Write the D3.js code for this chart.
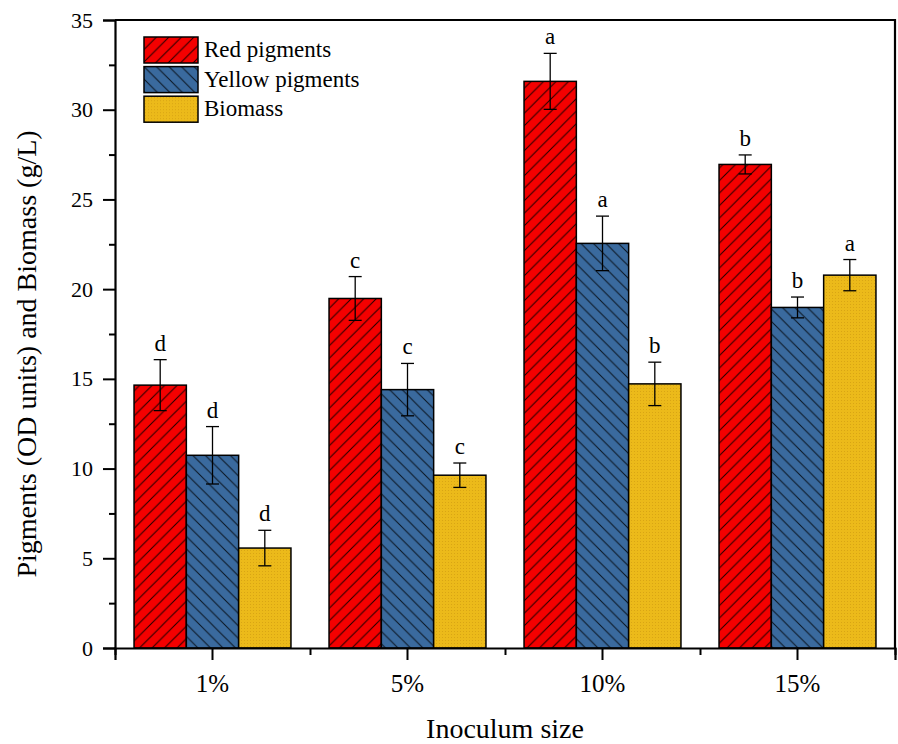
<!DOCTYPE html>
<html>
<head>
<meta charset="utf-8">
<script src="https://cdn.jsdelivr.net/npm/d3@7"></script>
<style>
  html, body { margin: 0; padding: 0; background: #fff; }
  svg { display: block; font-family: "Liberation Serif", "Times New Roman", serif; }
</style>
</head>
<body>
<svg id="chart" width="898" height="744"></svg>
<script>
// Inoculum sizes tested
const categories = ["1%", "5%", "10%", "15%"];
const seriesNames = ["Red pigments", "Yellow pigments", "Biomass"];

// Mean values per inoculum size
const redValues = [14.65, 19.48, 31.58, 26.95];
const yellowValues = [10.74, 14.40, 22.55, 18.98];
const biomassValues = [5.57, 9.63, 14.72, 20.78];

// Standard deviations (error bar half-lengths)
const redErrors = [1.42, 1.22, 1.56, 0.53];
const yellowErrors = [1.60, 1.46, 1.52, 0.58];
const biomassErrors = [0.99, 0.68, 1.21, 0.87];

// Significance letters
const redLetters = ["d", "c", "a", "b"];
const yellowLetters = ["d", "c", "a", "b"];
const biomassLetters = ["d", "c", "b", "a"];

// Axis ticks
const yMajorTicks = [0, 5, 10, 15, 20, 25, 30, 35];
const yMinorTicks = [2.5, 7.5, 12.5, 17.5, 22.5, 27.5, 32.5];

const svg = d3.select("#chart");
const plotLeft = 115, plotRight = 895, plotTop = 20, plotBottom = 648;
const serif = "Liberation Serif, Times New Roman, serif";

const x0 = d3.scaleBand().domain(categories).range([plotLeft, plotRight]).padding(0);
const x1 = d3.scaleBand().domain(seriesNames).range([0, x0.bandwidth()])
  .paddingInner(0).paddingOuter(0.364);
const y = d3.scaleLinear().domain([0, 35]).range([plotBottom, plotTop]);

// Fill patterns
const defs = svg.append("defs");
const hs = 12.5;
const redPat = defs.append("pattern").attr("id", "hatchRed")
  .attr("patternUnits", "userSpaceOnUse").attr("width", hs).attr("height", hs);
redPat.append("rect").attr("width", hs).attr("height", hs).attr("fill", "#F40000");
redPat.append("path")
  .attr("d", `M0,${hs} L${hs},0 M${-hs/2},${hs/2} L${hs/2},${-hs/2} M${hs/2},${hs*1.5} L${hs*1.5},${hs/2}`)
  .attr("stroke", "#1a0000").attr("stroke-width", 1);

const bluePat = defs.append("pattern").attr("id", "hatchBlue")
  .attr("patternUnits", "userSpaceOnUse").attr("width", hs).attr("height", hs);
bluePat.append("rect").attr("width", hs).attr("height", hs).attr("fill", "#3A6A9E");
bluePat.append("path")
  .attr("d", `M0,0 L${hs},${hs} M${-hs/2},${hs/2} L${hs/2},${hs*1.5} M${hs/2},${-hs/2} L${hs*1.5},${hs/2}`)
  .attr("stroke", "#0a1420").attr("stroke-width", 1);

const goldPat = defs.append("pattern").attr("id", "dotGold")
  .attr("patternUnits", "userSpaceOnUse").attr("width", 3).attr("height", 3);
goldPat.append("rect").attr("width", 3).attr("height", 3).attr("fill", "#ECBA1A");
goldPat.append("rect").attr("x", 1).attr("y", 1).attr("width", 1).attr("height", 1).attr("fill", "#D9A514");

const fills = { "Red pigments": "url(#hatchRed)", "Yellow pigments": "url(#hatchBlue)", "Biomass": "url(#dotGold)" };

const series = [
  { name: "Red pigments", values: redValues, errors: redErrors, letters: redLetters },
  { name: "Yellow pigments", values: yellowValues, errors: yellowErrors, letters: yellowLetters },
  { name: "Biomass", values: biomassValues, errors: biomassErrors, letters: biomassLetters }
];

const rows = [];
series.forEach(s => categories.forEach((c, i) => rows.push({
  series: s.name, cat: c, value: s.values[i], err: s.errors[i], letter: s.letters[i]
})));

// Bars
svg.append("g").selectAll("rect").data(rows).join("rect")
  .attr("x", d => x0(d.cat) + x1(d.series))
  .attr("y", d => y(d.value))
  .attr("width", x1.bandwidth())
  .attr("height", d => y(0) - y(d.value))
  .attr("fill", d => fills[d.series])
  .attr("stroke", "#000").attr("stroke-width", 1.5);

// Error bars
const eb = svg.append("g").attr("stroke", "#000").attr("stroke-width", 1.3);
const cap = 6.5;
rows.forEach(d => {
  const cx = x0(d.cat) + x1(d.series) + x1.bandwidth() / 2;
  const yt = y(d.value + d.err), yb = y(d.value - d.err);
  eb.append("line").attr("x1", cx).attr("x2", cx).attr("y1", yt).attr("y2", yb);
  eb.append("line").attr("x1", cx - cap).attr("x2", cx + cap).attr("y1", yt).attr("y2", yt);
  eb.append("line").attr("x1", cx - cap).attr("x2", cx + cap).attr("y1", yb).attr("y2", yb);
});

// Significance letters
svg.append("g").selectAll("text").data(rows).join("text")
  .attr("x", d => x0(d.cat) + x1(d.series) + x1.bandwidth() / 2)
  .attr("y", d => y(d.value + d.err) - 9)
  .attr("text-anchor", "middle")
  .attr("font-family", serif)
  .attr("font-size", 23)
  .attr("fill", "#000")
  .text(d => d.letter);

// Frame (top and right)
svg.append("path")
  .attr("d", `M${plotLeft},${plotTop} H${plotRight} V${plotBottom}`)
  .attr("fill", "none").attr("stroke", "#000").attr("stroke-width", 2.2);

// Y axis
const yAxis = svg.append("g").attr("transform", `translate(${plotLeft},0)`)
  .call(d3.axisLeft(y).tickValues(yMajorTicks).tickSize(12).tickPadding(10).tickFormat(d3.format("d")));
svg.append("g").attr("transform", `translate(${plotLeft},0)`)
  .call(d3.axisLeft(y).tickValues(yMinorTicks).tickSize(6).tickFormat(""))
  .call(g => g.select(".domain").remove());

// X axis: major ticks at category centres, minor ticks at boundaries
const xAxis = svg.append("g").attr("transform", `translate(0,${plotBottom})`)
  .call(d3.axisBottom(x0).tickSize(12).tickPadding(14));
const xb = d3.scaleLinear().domain([0, categories.length]).range([plotLeft, plotRight]);
svg.append("g").attr("transform", `translate(0,${plotBottom})`)
  .call(d3.axisBottom(xb).ticks(categories.length).tickSize(7).tickFormat(""))
  .call(g => g.select(".domain").remove());

svg.selectAll(".domain").attr("stroke", "#000").attr("stroke-width", 2.2);
svg.selectAll(".tick line").attr("stroke", "#000").attr("stroke-width", 2);
yAxis.attr("font-family", serif);
xAxis.attr("font-family", serif);
yAxis.selectAll(".tick text").attr("font-size", 22).attr("fill", "#000");
xAxis.selectAll(".tick text").attr("font-size", 25).attr("fill", "#000");

// Axis titles
svg.append("text")
  .attr("x", (plotLeft + plotRight) / 2).attr("y", 738)
  .attr("text-anchor", "middle").attr("font-family", serif).attr("font-size", 28).attr("fill", "#000")
  .text("Inoculum size");
svg.append("text")
  .attr("transform", `translate(36,${(plotTop + plotBottom) / 2 + 20}) rotate(-90)`)
  .attr("text-anchor", "middle").attr("font-family", serif).attr("font-size", 28).attr("fill", "#000")
  .text("Pigments (OD units) and Biomass (g/L)");

// Legend
const legend = svg.append("g").attr("transform", "translate(144,37)");
seriesNames.forEach((name, i) => {
  const g = legend.append("g").attr("transform", `translate(0,${i * 29.6})`);
  g.append("rect").attr("width", 54).attr("height", 26)
    .attr("fill", fills[name]).attr("stroke", "#000").attr("stroke-width", 1.5);
  g.append("text").attr("x", 60).attr("y", 20)
    .attr("font-family", serif).attr("font-size", 23).attr("fill", "#000").text(name);
});
</script>
</body>
</html>
